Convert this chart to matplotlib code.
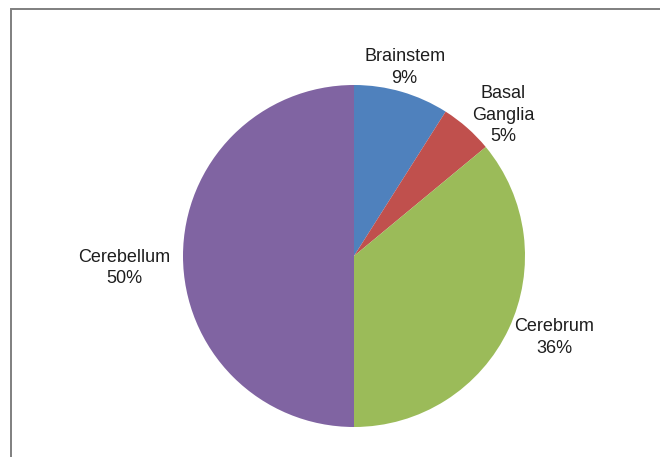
import matplotlib
matplotlib.use("Agg")
import matplotlib.pyplot as plt
from matplotlib.patches import Rectangle
import numpy as np

regions = ["Brainstem", "Basal\nGanglia", "Cerebrum", "Cerebellum"]
shares = [9, 5, 36, 50]
colors = ["#4F81BD", "#C0504D", "#9BBB59", "#8064A2"]

# label placement: distance from centre (radius units) and angle shift from wedge middle (deg)
label_dist = [1.144, 1.20, 1.263, 1.344]
label_shift = [1.2, -5.2, 3.0, 3.0]

W, H = 660, 457
fig = plt.figure(figsize=(W / 100, H / 100), dpi=100)
ax = fig.add_axes([0, 0, 1, 1])

# chart frame (only left and top edges visible in the crop)
fig.patches.append(Rectangle((11 / W, -0.2), 1.2, 1.2 - 9 / H,
                             transform=fig.transFigure, fill=False,
                             edgecolor="#7f7f7f", linewidth=1.4))

cx, cy, r = 354, H - 256, 171
wedges, _ = ax.pie(shares, colors=colors, startangle=90, counterclock=False,
                   center=(cx, cy), radius=r, frame=True,
                   wedgeprops=dict(linewidth=0))
ax.set_xlim(0, W)
ax.set_ylim(0, H)
ax.set_aspect("equal")
ax.axis("off")

for w, name, val, d, s in zip(wedges, regions, shares, label_dist, label_shift):
    ang = np.deg2rad((w.theta1 + w.theta2) / 2 + s)
    x = cx + d * r * np.cos(ang)
    y = cy + d * r * np.sin(ang)
    ax.text(x, y, f"{name}\n{val}%", ha="center", va="center",
            fontsize=13, family="Liberation Sans", color="#1e1e1e",
            linespacing=1.38)

fig.savefig("out.png", dpi=100)
